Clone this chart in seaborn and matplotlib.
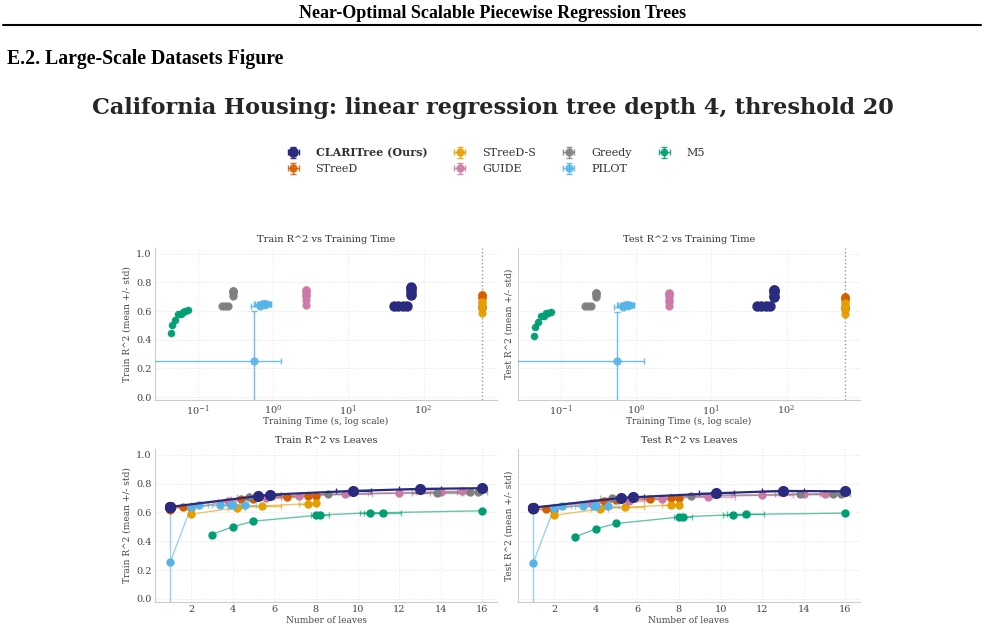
import pandas as pd
import seaborn as sns
import matplotlib.pyplot as plt
from matplotlib.lines import Line2D

# Methods and colours
METHODS = ["CLARITree (Ours)", "STreeD", "STreeD-S", "GUIDE", "Greedy", "PILOT", "M5"]
COLORS = ["#2a2a7f", "#D55E00", "#E69F00", "#CC79A7", "#7f7f7f", "#56B4E9", "#009E73"]

# CLARITree (Ours)
clari_leaves = [1, 1, 1, 1, 5.2, 5.8, 9.8, 13.0, 16.0]
clari_leaves_sd = [0, 0, 0, 0, 0.4, 0.5, 0.85, 1.0, 0]
clari_time = [40, 46, 53, 61, 68, 68, 68, 68, 68]
clari_time_sd = [2, 2, 2, 2, 2, 2, 2, 2, 2]
clari_train = [0.638, 0.638, 0.638, 0.638, 0.713, 0.723, 0.749, 0.763, 0.768]
clari_test = [0.633, 0.633, 0.633, 0.633, 0.700, 0.705, 0.733, 0.749, 0.746]

# STreeD
streed_leaves = [1, 1.6, 2, 4.4, 5.0, 6.6, 7.6, 8.0]
streed_leaves_sd = [0, 0.5, 0, 0.5, 0.6, 0.6, 0.5, 0]
streed_time = [600, 600, 600, 600, 600, 600, 600, 600]
streed_time_sd = [5, 5, 5, 5, 5, 5, 5, 5]
streed_train = [0.620, 0.637, 0.628, 0.693, 0.695, 0.710, 0.713, 0.714]
streed_test = [0.616, 0.626, 0.620, 0.680, 0.684, 0.695, 0.698, 0.700]

# STreeD-S
streeds_leaves = [2, 4.2, 5.4, 7.6, 8.0]
streeds_leaves_sd = [0, 0.4, 0.9, 0.4, 0]
streeds_time = [600, 600, 600, 600, 600]
streeds_time_sd = [5, 5, 5, 5, 5]
streeds_train = [0.588, 0.632, 0.644, 0.660, 0.662]
streeds_test = [0.580, 0.623, 0.635, 0.651, 0.653]

# GUIDE
guide_leaves = [1, 3.8, 5.6, 7.2, 9.4, 12.0, 14.0, 15.0]
guide_leaves_sd = [0, 0.5, 0.7, 0.8, 1.3, 1.5, 1.2, 0.9]
guide_time = [2.7, 2.7, 2.7, 2.7, 2.7, 2.7, 2.7, 2.7]
guide_time_sd = [0.05, 0.05, 0.05, 0.05, 0.05, 0.05, 0.05, 0.05]
guide_train = [0.640, 0.680, 0.702, 0.712, 0.726, 0.737, 0.744, 0.746]
guide_test = [0.633, 0.665, 0.680, 0.695, 0.710, 0.720, 0.726, 0.726]

# Greedy
greedy_leaves = [1, 1, 1, 4.8, 8.6, 13.8, 15.4, 15.8]
greedy_leaves_sd = [0, 0, 0, 0.6, 1.0, 1.2, 0.6, 0.4]
greedy_time = [0.21, 0.23, 0.25, 0.29, 0.29, 0.29, 0.29, 0.29]
greedy_time_sd = [0.005, 0.005, 0.005, 0.005, 0.005, 0.005, 0.005, 0.005]
greedy_train = [0.638, 0.638, 0.638, 0.705, 0.725, 0.738, 0.740, 0.742]
greedy_test = [0.633, 0.633, 0.633, 0.700, 0.715, 0.726, 0.728, 0.728]

# PILOT
pilot_leaves = [1, 2.0, 2.4, 3.4, 3.9, 4.0, 4.6]
pilot_leaves_sd = [0, 0, 0.4, 0.4, 0.5, 0.5, 0.5]
pilot_time = [0.55, 0.66, 0.70, 0.73, 0.76, 0.78, 0.80]
pilot_time_sd = [0.71, 0.15, 0.15, 0.15, 0.15, 0.15, 0.15]
pilot_train = [0.255, 0.635, 0.648, 0.648, 0.648, 0.648, 0.650]
pilot_test = [0.249, 0.630, 0.642, 0.642, 0.642, 0.642, 0.645]
pilot_r2_sd = [0.345, 0, 0, 0, 0, 0, 0]

# M5
m5_leaves = [3, 4, 5, 8.0, 8.2, 10.6, 11.2, 16]
m5_leaves_sd = [0, 0, 0, 0, 0.45, 0.5, 0.9, 0]
m5_time = [0.0436, 0.0458, 0.0488, 0.055, 0.0593, 0.064, 0.068, 0.0726]
m5_time_sd = [0.001, 0.001, 0.001, 0.001, 0.001, 0.001, 0.001, 0.001]
m5_train = [0.446, 0.500, 0.539, 0.579, 0.582, 0.597, 0.598, 0.611]
m5_test = [0.428, 0.486, 0.523, 0.567, 0.569, 0.584, 0.586, 0.595]

TIME_LIMIT = 600

# Build one long table
series = {
    "CLARITree (Ours)": (clari_leaves, clari_leaves_sd, clari_time, clari_time_sd, clari_train, clari_test, None),
    "STreeD": (streed_leaves, streed_leaves_sd, streed_time, streed_time_sd, streed_train, streed_test, None),
    "STreeD-S": (streeds_leaves, streeds_leaves_sd, streeds_time, streeds_time_sd, streeds_train, streeds_test, None),
    "GUIDE": (guide_leaves, guide_leaves_sd, guide_time, guide_time_sd, guide_train, guide_test, None),
    "Greedy": (greedy_leaves, greedy_leaves_sd, greedy_time, greedy_time_sd, greedy_train, greedy_test, None),
    "PILOT": (pilot_leaves, pilot_leaves_sd, pilot_time, pilot_time_sd, pilot_train, pilot_test, pilot_r2_sd),
    "M5": (m5_leaves, m5_leaves_sd, m5_time, m5_time_sd, m5_train, m5_test, None),
}
frames = []
for name, (lv, lvsd, tm, tmsd, tr, te, r2sd) in series.items():
    frames.append(pd.DataFrame({
        "method": name, "leaves": lv, "leaves_sd": lvsd, "time": tm, "time_sd": tmsd,
        "train": tr, "test": te,
        "r2_sd": r2sd if r2sd is not None else [0.004] * len(lv),
    }))
df = pd.concat(frames, ignore_index=True)

sns.set_theme(style="whitegrid", font="DejaVu Serif")
plt.rcParams.update({
    "font.family": ["DejaVu Serif"],
    "mathtext.fontset": "dejavuserif",
    "grid.linestyle": ":",
    "grid.color": "#e3e3e3",
    "grid.linewidth": 0.7,
    "axes.edgecolor": "#cccccc",
    "axes.linewidth": 0.8,
    "axes.labelcolor": "#444444",
    "xtick.color": "#444444",
    "ytick.color": "#444444",
    "text.color": "#333333",
})

fig = plt.figure(figsize=(9.85, 6.29), dpi=100)

# Page header
fig.text(0.5, 1 - 14 / 629, "Near-Optimal Scalable Piecewise Regression Trees", ha="center", va="center",
         family="Liberation Serif", weight="bold", size=13, color="black")
fig.add_artist(Line2D([3 / 985, 981 / 985], [1 - 25 / 629] * 2, color="black", lw=1.5))
fig.text(7 / 985, 1 - 59 / 629, "E.2. Large-Scale Datasets Figure", ha="left", va="center",
         family="Liberation Serif", weight="bold", size=14.2, color="black")
fig.text(0.5, 1 - 108 / 629, "California Housing: linear regression tree depth 4, threshold 20",
         ha="center", va="center", weight="bold", size=16.1, color="#262626")

W = 342 / 985
ax_tl = fig.add_axes([155 / 985, 1 - 400 / 629, W, 152 / 629])
ax_tr = fig.add_axes([518 / 985, 1 - 400 / 629, W, 152 / 629])
ax_bl = fig.add_axes([155 / 985, 1 - 601.7 / 629, W, 152.7 / 629])
ax_br = fig.add_axes([518 / 985, 1 - 601.7 / 629, W, 152.7 / 629])

handles = []
for col, ax in [("train", ax_tl), ("test", ax_tr)]:
    for i, (m, c) in enumerate(zip(METHODS, COLORS)):
        d = df[df["method"] == m]
        ours = i == 0
        h = ax.errorbar(d["time"], d[col], xerr=d["time_sd"], yerr=d["r2_sd"], fmt="o", color=c,
                        ms=6.5 if ours else (4.5 if m == "M5" else 5), elinewidth=1, capsize=2, capthick=1,
                        alpha=1 if ours else 0.85, zorder=5 if ours else 3, label=m)
        if col == "train":
            handles.append(h)
    ax.axvline(TIME_LIMIT, color="#999999", ls=":", lw=1, zorder=1)
    ax.set_xscale("log")
    ax.set_xlim(0.0268, 950)
    ax.set_xlabel("Training Time (s, log scale)", size=6.5, labelpad=-1)

for col, ax in [("train", ax_bl), ("test", ax_br)]:
    for i, (m, c) in enumerate(zip(METHODS, COLORS)):
        d = df[df["method"] == m].sort_values("leaves")
        ours = i == 0
        ax.errorbar(d["leaves"], d[col], xerr=d["leaves_sd"], yerr=d["r2_sd"], fmt="none", ecolor=c,
                    elinewidth=1, capsize=2, capthick=1, alpha=1 if ours else 0.6, zorder=2)
        ax.plot(d["leaves"], d[col], color=c, lw=1.6 if ours else 1, alpha=1 if ours else 0.6,
                zorder=5 if ours else 3)
        ax.plot(d["leaves"], d[col], ls="none", marker="o", color=c, ms=7 if ours else 5,
                zorder=6 if ours else 4)
    ax.set_xlim(0.27, 16.7)
    ax.set_xticks([2, 4, 6, 8, 10, 12, 14, 16])
    ax.set_xlabel("Number of leaves", size=6.5, labelpad=1)

titles = {ax_tl: "Train R^2 vs Training Time", ax_tr: "Test R^2 vs Training Time",
          ax_bl: "Train R^2 vs Leaves", ax_br: "Test R^2 vs Leaves"}
for ax, t in titles.items():
    ax.set_title(t, size=7, pad=4, color="#333333")
    ax.set_ylim(-0.02, 1.04)
    ax.set_yticks([0.0, 0.2, 0.4, 0.6, 0.8, 1.0])
    ax.tick_params(which="both", labelsize=7, pad=2.5, length=0)
    sns.despine(ax=ax)
    ax.grid(True, which="major")

for ax in [ax_tl, ax_bl]:
    ax.set_ylabel("Train R^2 (mean +/- std)", size=6.5, labelpad=3)
for ax in [ax_tr, ax_br]:
    ax.set_ylabel("Test R^2 (mean +/- std)", size=6.5, labelpad=3)
    ax.tick_params(labelleft=False)

leg = fig.legend(handles, METHODS, loc="upper center", bbox_to_anchor=(0.5, 1 - 137 / 629), ncol=4,
                 frameon=False, fontsize=8, columnspacing=1.75, handlelength=2.4, handletextpad=0.8,
                 labelspacing=0.55)
leg.get_texts()[0].set_fontweight("bold")

fig.savefig("out.png", dpi=100)
